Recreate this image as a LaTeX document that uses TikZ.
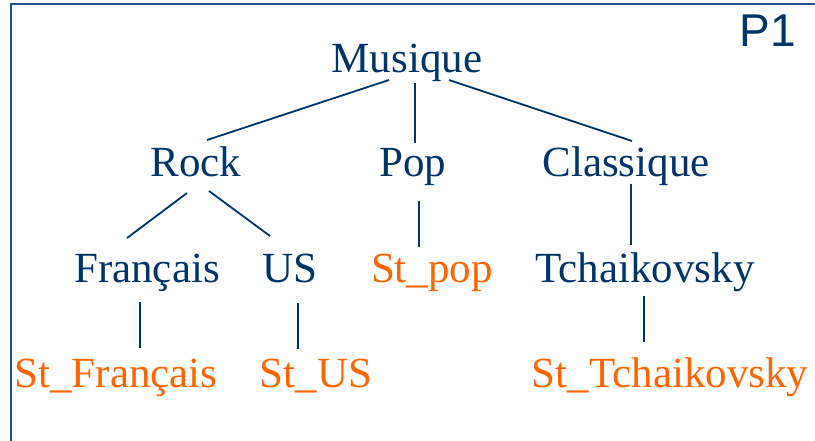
\documentclass[tikz,border=0pt]{standalone}
\usepackage{fontspec}
\setmainfont{Liberation Serif}
\newfontfamily\labelsans{Liberation Sans}
\usepackage{xcolor}
\usepackage{tikz}

\definecolor{navy}{HTML}{003366}
\definecolor{stock}{HTML}{FF6600}
\definecolor{framecol}{HTML}{23528C}

\begin{document}
\begin{tikzpicture}[
    x=1pt, y=-1pt,
    cat/.style={anchor=base, inner sep=0pt, text=navy, font=\fontsize{43}{50}\selectfont},
    leaf/.style={cat, text=stock},
    edge/.style={draw=navy, line width=1.8pt},
    frame/.style={draw=framecol, line width=2.5pt}
]
\useasboundingbox (0,0) rectangle (815,440);
\draw[frame] (11,450) |- (830,4);
\node[anchor=base, inner sep=0pt, text=navy, font=\labelsans\fontsize{46}{52}\selectfont] (page) at (768,46) {P1};

% genres
\node[cat] (mus) at (407,72) {Musique};
\node[cat] (rock) at (196,176) {Rock};
\node[cat] (pop) at (413,176) {Pop};
\node[cat] (clas) at (626,176) {Classique};
\node[cat] (fr) at (147,282) {Français};
\node[cat] (us) at (290,282) {US};
\node[leaf] (stpop) at (432,282) {St\_pop};
\node[cat] (tch) at (645,282) {Tchaikovsky};
\node[leaf] (stfr) at (116,387) {St\_Français};
\node[leaf] (stus) at (316,387) {St\_US};
\node[leaf] (sttch) at (670,387) {St\_Tchaikovsky};

\draw[edge] ([shift={(-18,8)}]mus.base) -- ([shift={(11,-36)}]rock.base);
\draw[edge] ([shift={(8,11)}]mus.base) -- ([shift={(2,-33)}]pop.base);
\draw[edge] ([shift={(42,8)}]mus.base) -- ([shift={(6,-35)}]clas.base);
\draw[edge] ([shift={(-9,17)}]rock.base) -- ([shift={(-20,-44)}]fr.base);
\draw[edge] ([shift={(13,15)}]rock.base) -- ([shift={(-20,-46)}]us.base);
\draw[edge] ([shift={(6,25)}]pop.base) -- ([shift={(-13,-35)}]stpop.base);
\draw[edge] ([shift={(5,8)}]clas.base) -- ([shift={(-14,-37)}]tch.base);
\draw[edge] ([shift={(-7,20)}]fr.base) -- ([shift={(24,-39)}]stfr.base);
\draw[edge] ([shift={(8,21)}]us.base) -- ([shift={(-18,-38)}]stus.base);
\draw[edge] ([shift={(-1,14)}]tch.base) -- ([shift={(-26,-45)}]sttch.base);
\end{tikzpicture}
\end{document}
